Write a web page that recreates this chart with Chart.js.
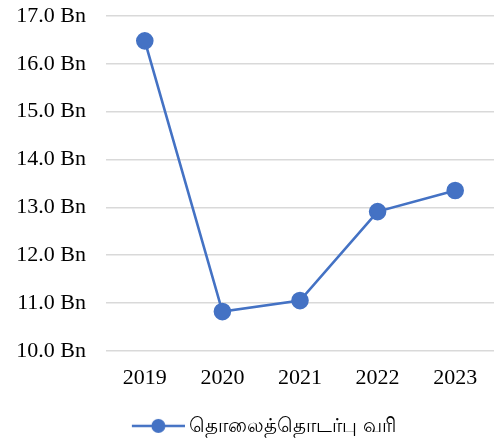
<!DOCTYPE html>
<html lang="ta">
<head>
<meta charset="UTF-8">
<title>தொலைத்தொடர்பு வரி</title>
<script src="https://cdn.jsdelivr.net/npm/chart.js"></script>
<style>
    html, body { margin: 0; padding: 0; background: #fff; }
    .chart-box { width: 499px; height: 439px; }
</style>
</head>
<body>
<div class="chart-box">
    <canvas id="taxChart"></canvas>
</div>
<script>
    // values in billions
    const years = ["2019", "2020", "2021", "2022", "2023"];
    const taxValues = [16.48, 10.82, 11.05, 12.91, 13.35];
    const seriesName = "தொலைத்தொடர்பு வரி";

    const blue = "#4472C4";

    // legend marker: line with a dot, drawn at the right end of a wider
    // transparent image so it sits close to the text like in the original
    function legendMarker() {
        const c = document.createElement("canvas");
        c.width = 92; c.height = 16;
        const g = c.getContext("2d");
        g.strokeStyle = blue;
        g.lineWidth = 2.5;
        g.beginPath();
        g.moveTo(39, 8); g.lineTo(92, 8);
        g.stroke();
        g.fillStyle = blue;
        g.beginPath();
        g.arc(65.5, 8, 7, 0, Math.PI * 2);
        g.fill();
        return c;
    }
    const marker = legendMarker();

    new Chart(document.getElementById("taxChart"), {
        type: "line",
        data: {
            labels: years,
            datasets: [{
                label: seriesName,
                data: taxValues,
                borderColor: blue,
                backgroundColor: blue,
                borderWidth: 2.6,
                pointRadius: 7.5,
                pointHoverRadius: 7.5,
                tension: 0
            }]
        },
        options: {
            responsive: true,
            maintainAspectRatio: false,
            animation: false,
            layout: {
                autoPadding: false,
                padding: { top: 16, right: 5, left: 0, bottom: -7 }
            },
            scales: {
                x: {
                    offset: true,
                    grid: { display: false },
                    border: { display: false },
                    ticks: {
                        color: "#000",
                        padding: 6,
                        font: { family: "Liberation Serif", size: 22 }
                    },
                    afterFit: s => { s.height = 55; s.paddingLeft = 0; s.paddingRight = 0; }
                },
                y: {
                    min: 10,
                    max: 17,
                    grid: { color: "#d9d9d9", lineWidth: 1.5, drawTicks: false },
                    border: { display: false },
                    ticks: {
                        stepSize: 1,
                        color: "#000",
                        padding: 20,
                        font: { family: "Liberation Serif", size: 22 },
                        callback: v => v.toFixed(1) + " Bn"
                    },
                    // tick padding would otherwise push the plot top down
                    afterFit: s => { s.width = 106; s.paddingTop = 0; s.paddingBottom = 0; }
                }
            },
            plugins: {
                tooltip: { enabled: false },
                legend: {
                    position: "bottom",
                    labels: {
                        usePointStyle: true,
                        pointStyleWidth: 81,
                        color: "#000",
                        padding: 10,
                        font: { family: "Noto Sans", size: 20.2 },
                        generateLabels: chart => [{
                            text: seriesName,
                            pointStyle: marker,
                            fillStyle: blue,
                            strokeStyle: blue,
                            lineWidth: 0,
                            datasetIndex: 0
                        }]
                    }
                }
            }
        }
    });
</script>
</body>
</html>
